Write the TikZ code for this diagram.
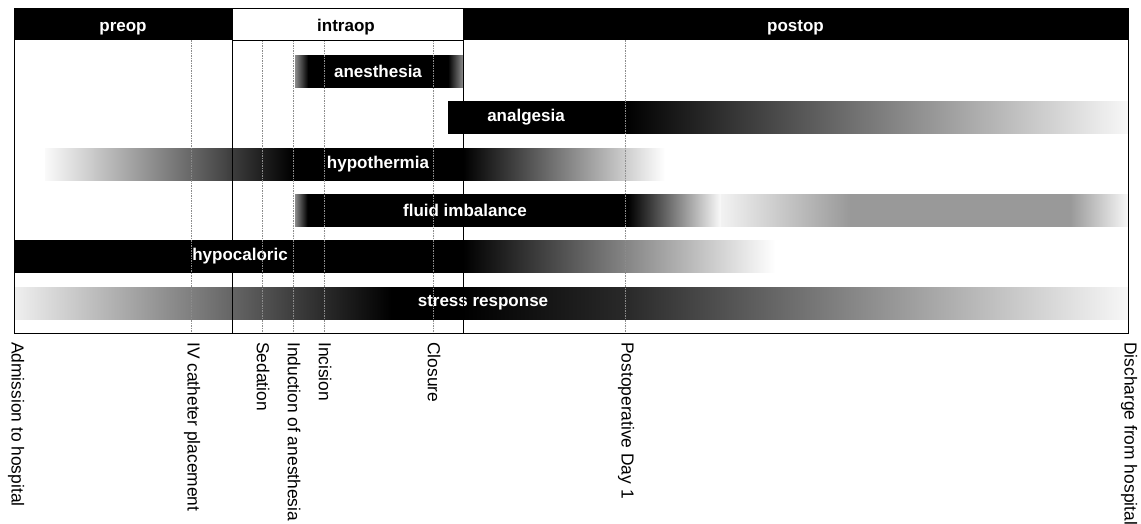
\documentclass[tikz,border=0pt]{standalone}
\usepackage{fontspec}
\setmainfont{Liberation Sans}
% horizontal shadings: 25bp..75bp maps onto the bar
\pgfdeclarehorizontalshading{shAnes}{100bp}{rgb(0bp)=(.55,.55,.55); rgb(25bp)=(.55,.55,.55); rgb(28.87bp)=(0,0,0); rgb(70.54bp)=(0,0,0); rgb(75bp)=(.55,.55,.55); rgb(100bp)=(.55,.55,.55)}
\pgfdeclarehorizontalshading{shAnal}{100bp}{rgb(0bp)=(0,0,0); rgb(38.01bp)=(0,0,0); rgb(75bp)=(.97,.97,.97); rgb(100bp)=(.97,.97,.97)}
\pgfdeclarehorizontalshading{shHypo}{100bp}{rgb(0bp)=(.98,.98,.98); rgb(25bp)=(.98,.98,.98); rgb(45bp)=(0,0,0); rgb(58.71bp)=(0,0,0); rgb(75bp)=(1,1,1); rgb(100bp)=(1,1,1)}
\pgfdeclarehorizontalshading{shFluid}{100bp}{rgb(0bp)=(.55,.55,.55); rgb(25bp)=(.55,.55,.55); rgb(25.75bp)=(0,0,0); rgb(44.99bp)=(0,0,0); rgb(50.51bp)=(.97,.97,.97); rgb(50.56bp)=(.95,.95,.95); rgb(58.31bp)=(.6,.6,.6); rgb(71.52bp)=(.6,.6,.6); rgb(75bp)=(.97,.97,.97); rgb(100bp)=(.97,.97,.97)}
\pgfdeclarehorizontalshading{shCal}{100bp}{rgb(0bp)=(0,0,0); rgb(54.5bp)=(0,0,0); rgb(75bp)=(1,1,1); rgb(100bp)=(1,1,1)}
\pgfdeclarehorizontalshading{shStress}{100bp}{rgb(0bp)=(.94,.94,.94); rgb(25bp)=(.94,.94,.94); rgb(41.92bp)=(0,0,0); rgb(45.15bp)=(0,0,0); rgb(52.42bp)=(.16,.16,.16); rgb(75bp)=(.97,.97,.97); rgb(100bp)=(.97,.97,.97)}
\begin{document}
\begin{tikzpicture}[x=1pt,y=-1pt,
  hdrbox/.style={inner sep=0pt, minimum height=32pt},
  hdrtext/.style={font=\fontsize{17}{20}\selectfont\bfseries, inner sep=0pt, anchor=base},
  barlabel/.style={font=\fontsize{17}{20}\selectfont\bfseries, text=white, inner sep=0pt},
  ticklabel/.style={font=\fontsize{17.4}{20}\selectfont, rotate=-90, anchor=west, inner sep=0pt},
  guide/.style={black!45, line width=0.6pt, dash pattern=on 1.5pt off 1pt},
  phase/.style={black, line width=1pt},
]
\useasboundingbox (0,0) rectangle (1141,523);

% ---- bars
\shade[shading=shAnes]   (295,55)  rectangle (463,87);
\shade[shading=shAnal]   (448,101) rectangle (1128,133);
\shade[shading=shHypo]   (45,148)  rectangle (665,180);
\shade[shading=shFluid]  (295,194) rectangle (1128,226);
\shade[shading=shCal]    (14,240)  rectangle (775,272);
\shade[shading=shStress] (14,287)  rectangle (1128,319);

% ---- bar labels
\node[barlabel] (lanes) at (378,71) {anesthesia};
\node[barlabel] (lanal) at (526,117) {analgesia};
\node[barlabel] (lhypo) at (378,164) {hypothermia};
\node[barlabel] (lfluid) at (465,210) {fluid imbalance};
\node[barlabel] (lcal) at (240,256) {hypocaloric};
\node[barlabel] (lstress) at (483,303) {stress response};

% ---- guide lines
\foreach \x in {191,262,293,324,433,625}
  \draw[guide] (\x,40) -- (\x,333);
\draw[phase] (232,40) -- (232,333);
\draw[phase] (463,40) -- (463,333);

% ---- header
\node[hdrbox, fill=black, minimum width=218pt] (preop) at (123,24) {};
\node[hdrbox, fill=white, draw=black, line width=1pt, minimum width=231pt] (intraop) at (347.5,24) {};
\node[hdrbox, fill=black, minimum width=665pt] (postop) at (795.5,24) {};
\node[hdrtext, text=white] (tpreop) at (123,31.5) {preop};
\node[hdrtext, text=black] (tintraop) at (346,31.5) {intraop};
\node[hdrtext, text=white] (tpostop) at (795.5,31.5) {postop};

% ---- frame
\draw[line width=1pt] (14,8) rectangle (1128,333);

% ---- tick labels
\node[ticklabel] (tadm) at (16,342) {Admission to hospital};
\node[ticklabel] (tiv) at (192,342) {IV catheter placement};
\node[ticklabel] (tsed) at (263,342) {Sedation};
\node[ticklabel] (tind) at (294,342) {Induction of anesthesia};
\node[ticklabel] (tinc) at (325,342) {Incision};
\node[ticklabel] (tclo) at (434,342) {Closure};
\node[ticklabel] (tpod) at (626,342) {Postoperative Day 1};
\node[ticklabel] (tdis) at (1129,342) {Discharge from hospital};
\end{tikzpicture}
\end{document}
